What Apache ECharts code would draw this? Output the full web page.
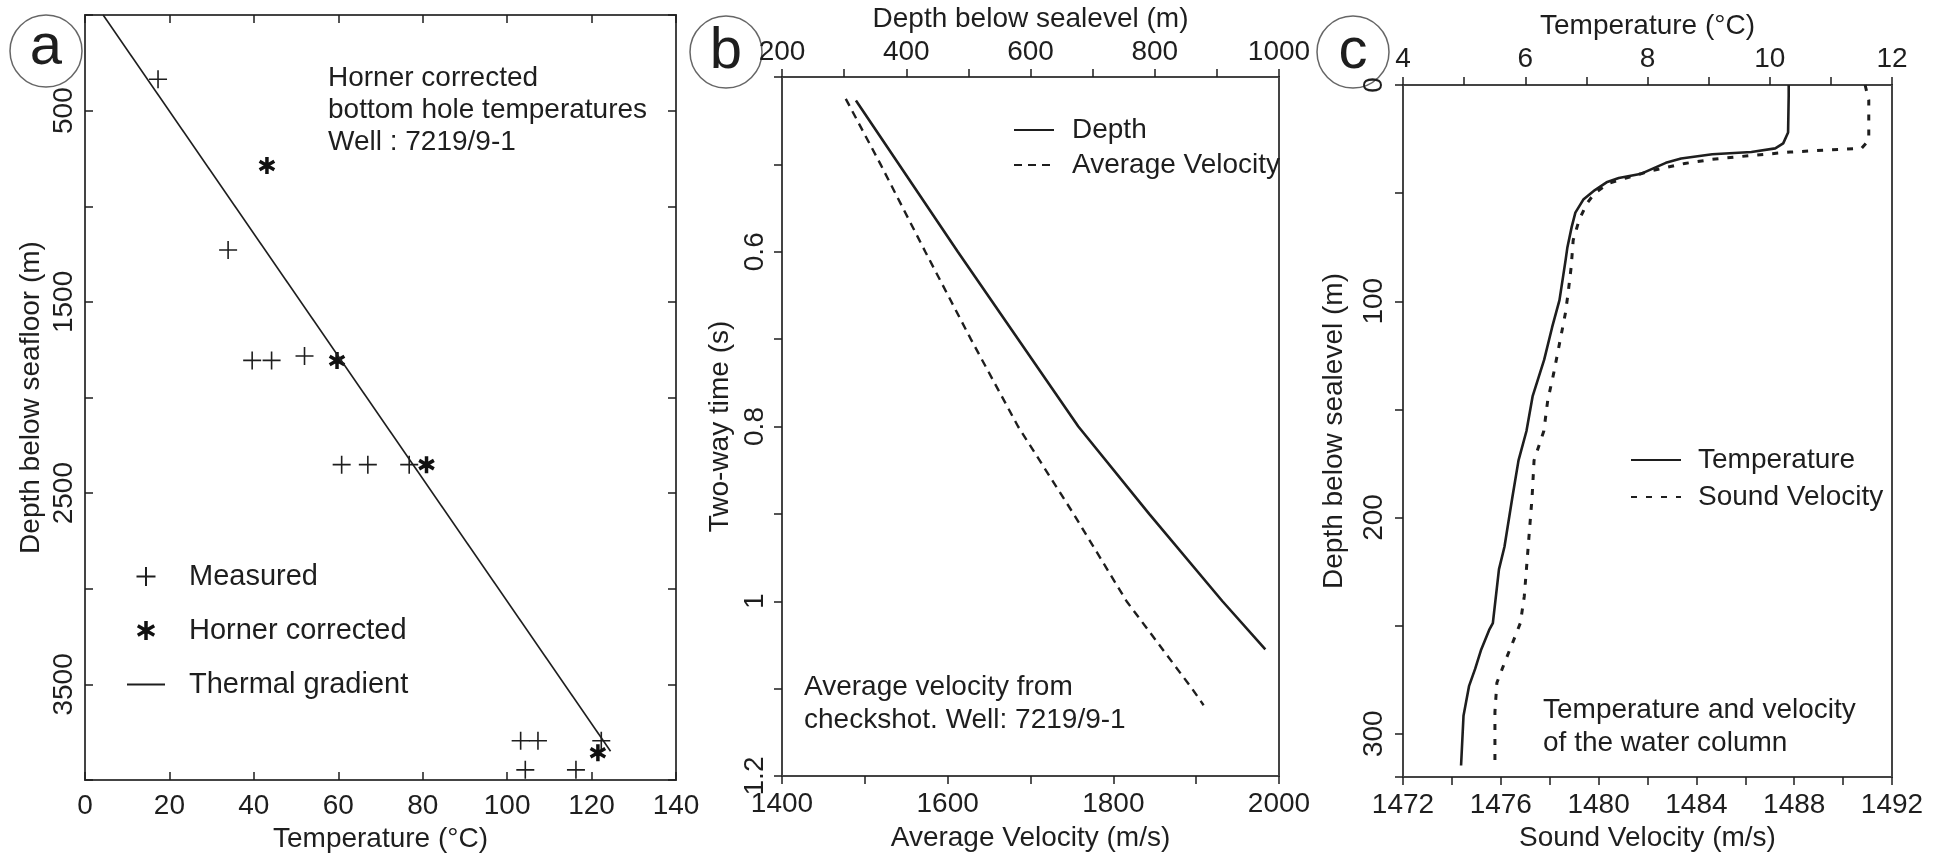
<!DOCTYPE html>
<html>
<head>
<meta charset="utf-8">
<script src="https://cdn.jsdelivr.net/npm/echarts@6.0.0/dist/echarts.min.js"></script>
<style>
  html, body { margin: 0; padding: 0; background: #fff; }
  #chart { width: 1935px; height: 857px; }
</style>
</head>
<body>
<div id="chart"></div>
<script>
// panel a - bottom hole temperatures
const measuredTemp = [17.3, 33.9, 39.6, 44.2, 52.0, 60.8, 67.0, 76.8, 103.2, 107.3, 104.3, 116.3, 122.3];
const measuredDepth = [336, 1229, 1806, 1806, 1783, 2351, 2351, 2351, 3795, 3795, 3947, 3947, 3795];
const hornerTemp = [43.1, 59.7, 80.9, 121.5];
const hornerDepth = [787, 1806, 2351, 3858];
const gradientTemp = [4.3, 124.5];
const gradientDepth = [0, 3850];
const aXLabels = [0, 20, 40, 60, 80, 100, 120, 140];
const aYLabels = [500, 1500, 2500, 3500];

// panel b - checkshot
const bVelTime = [0.425, 0.5, 0.6, 0.7, 0.8, 0.9, 1.0, 1.1, 1.119];
const bVelocity = [1477, 1519, 1573, 1628, 1685, 1752, 1816, 1895, 1909];
const bDepthTime = [0.427, 0.6, 0.8, 0.9, 1.0, 1.055];
const bDepth = [319, 483, 677, 791, 909, 978];
const bTopLabels = [200, 400, 600, 800, 1000];
const bBottomLabels = [1400, 1600, 1800, 2000];
const bYLabels = [0.6, 0.8, 1, 1.2];

// panel c - water column
const cTempDepth = [0, 5, 22, 27, 29.3, 31, 32, 34, 36, 41, 43, 45, 48.6, 53, 59, 65.6, 75, 81, 99.5, 112, 127, 144, 160, 173.6, 190.5, 213.5, 224, 248.8, 252, 261, 270, 278, 291.7, 314.7];
const cTemp = [10.31, 10.31, 10.3, 10.22, 10.09, 9.7, 9.06, 8.55, 8.3, 7.9, 7.53, 7.33, 7.14, 6.95, 6.82, 6.76, 6.69, 6.66, 6.56, 6.44, 6.31, 6.12, 6.02, 5.89, 5.79, 5.66, 5.57, 5.47, 5.41, 5.28, 5.18, 5.08, 4.99, 4.95];
const cVelDepth = [0, 7, 25.5, 29.3, 30, 31, 32.6, 34.4, 36.3, 39.4, 43, 45.5, 50, 54.8, 62.5, 71.8, 84, 96.5, 105.7, 119.6, 133.5, 145.8, 160, 173.6, 190.5, 213.5, 236.5, 248.8, 258, 267, 276.4, 290, 314];
const cVel = [1490.9, 1491.05, 1491.05, 1490.75, 1489.5, 1487.84, 1486.24, 1484.64, 1483.52, 1482.24, 1481.12, 1480.4, 1479.84, 1479.52, 1479.2, 1478.96, 1478.88, 1478.75, 1478.64, 1478.4, 1478.16, 1477.92, 1477.76, 1477.36, 1477.28, 1477.12, 1476.96, 1476.8, 1476.48, 1476.16, 1475.84, 1475.76, 1475.76];
const cTopLabels = [4, 6, 8, 10, 12];
const cBottomLabels = [1472, 1476, 1480, 1484, 1488, 1492];
const cYLabels = [0, 100, 200, 300];

const FONT = 'Liberation Sans, Arial, sans-serif';
const INK = '#1e1e1e';

const zip = (xs, ys) => xs.map((x, i) => [x, ys[i]]);
const pick = labels => v => {
    const hit = labels.find(l => Math.abs(l - v) < 1e-6);
    return hit === undefined ? '' : String(hit);
};

const labelStyle = { color: INK, fontSize: 28, fontFamily: FONT };
const nameStyle = { color: INK, fontSize: 28, fontFamily: FONT };

function xAx(grid, pos, min, max, interval, labels, name, opts) {
    opts = opts || {};
    return {
        type: 'value', gridIndex: grid, position: pos, min: min, max: max, interval: interval,
        axisLine: { show: false, onZero: false },
        axisTick: { show: true, inside: !!opts.inside, length: 8, lineStyle: { color: INK, width: 1.5 } },
        axisLabel: Object.assign({ show: !!labels, formatter: labels ? pick(labels) : '', margin: opts.margin || 12,
            showMinLabel: true, showMaxLabel: true }, labelStyle),
        splitLine: { show: false },
        name: name || '', nameLocation: 'middle', nameGap: opts.nameGap || 44, nameTextStyle: nameStyle
    };
}

function yAx(grid, pos, min, max, interval, labels, name, opts) {
    opts = opts || {};
    return {
        type: 'value', gridIndex: grid, position: pos, inverse: true, min: min, max: max, interval: interval,
        axisLine: { show: false, onZero: false },
        axisTick: { show: true, inside: !!opts.inside, length: 8, lineStyle: { color: INK, width: 1.5 } },
        axisLabel: Object.assign({ show: !!labels, formatter: labels ? pick(labels) : '', rotate: 90,
            margin: opts.margin || 8, showMinLabel: true, showMaxLabel: true }, labelStyle),
        splitLine: { show: false },
        name: name || '', nameLocation: 'middle', nameRotate: 90, nameGap: opts.nameGap || 44, nameTextStyle: nameStyle
    };
}

const gridBox = { show: true, borderColor: '#444', borderWidth: 2, backgroundColor: 'transparent', outerBoundsMode: 'none' };
// hide the marker that echarts puts on line legend icons
const lineOnly = name => ({ name: name, itemStyle: { opacity: 0 } });

const option = {
    animation: false,
    backgroundColor: '#fff',
    textStyle: { fontFamily: FONT },
    grid: [
        Object.assign({ left: 85, top: 15, width: 591, height: 765 }, gridBox),
        Object.assign({ left: 782, top: 77, width: 497, height: 699 }, gridBox),
        Object.assign({ left: 1403, top: 85, width: 489, height: 692 }, gridBox)
    ],
    xAxis: [
        xAx(0, 'bottom', 0, 140, 20, aXLabels, 'Temperature (°C)', { inside: true, margin: 12, nameGap: 42 }),
        xAx(0, 'top', 0, 140, 20, null, '', { inside: true }),
        xAx(1, 'top', 200, 1000, 100, bTopLabels, 'Depth below sealevel (m)', { margin: 11, nameGap: 40 }),
        xAx(1, 'bottom', 1400, 2000, 100, bBottomLabels, 'Average Velocity (m/s)', { margin: 14, nameGap: 48 }),
        xAx(2, 'top', 4, 12, 1, cTopLabels, 'Temperature (°C)', { margin: 12, nameGap: 44 }),
        xAx(2, 'bottom', 1472, 1492, 2, cBottomLabels, 'Sound Velocity (m/s)', { margin: 14, nameGap: 44 })
    ],
    yAxis: [
        yAx(0, 'left', 0, 4000, 500, aYLabels, 'Depth below seafloor (m)', { inside: true, margin: 7, nameGap: 40 }),
        yAx(0, 'right', 0, 4000, 500, null, '', { inside: true }),
        yAx(1, 'left', 0.4, 1.2, 0.1, bYLabels, 'Two-way time (s)', { margin: 13, nameGap: 48 }),
        yAx(2, 'left', 0, 320, 50, cYLabels, 'Depth below sealevel (m)', { margin: 15, nameGap: 55 })
    ],
    legend: [
        {
            data: [
                'Measured',
                { name: 'Horner corrected', itemStyle: { borderColor: '#111', borderWidth: 3.5 } },
                lineOnly('Thermal gradient')
            ],
            orient: 'vertical', left: 121, top: 557, itemWidth: 38, itemHeight: 19, itemGap: 25,
            textStyle: { color: INK, fontSize: 29, fontFamily: FONT, padding: [0, 0, 0, 19] },
            selectedMode: false
        },
        {
            data: [lineOnly('Depth'), lineOnly('Average Velocity')],
            orient: 'vertical', left: 1008, top: 111, itemWidth: 40, itemHeight: 18, itemGap: 7,
            textStyle: { color: INK, fontSize: 28, fontFamily: FONT, padding: [0, 0, 0, 13] },
            selectedMode: false
        },
        {
            data: [lineOnly('Temperature'), lineOnly('Sound Velocity')],
            orient: 'vertical', left: 1625, top: 441, itemWidth: 50, itemHeight: 18, itemGap: 9,
            textStyle: { color: INK, fontSize: 28, fontFamily: FONT, padding: [0, 0, 0, 12] },
            selectedMode: false
        }
    ],
    graphic: [
        { type: 'circle', shape: { cx: 46, cy: 51, r: 36 }, style: { fill: '#fff', stroke: '#666', lineWidth: 1.5 } },
        { type: 'text', x: 46, y: 48, style: { text: 'a', font: '58px ' + FONT, fill: INK, textAlign: 'center', textVerticalAlign: 'middle' } },
        { type: 'circle', shape: { cx: 726, cy: 52, r: 36 }, style: { fill: '#fff', stroke: '#666', lineWidth: 1.5 } },
        { type: 'text', x: 726, y: 52, style: { text: 'b', font: '58px ' + FONT, fill: INK, textAlign: 'center', textVerticalAlign: 'middle' } },
        { type: 'circle', shape: { cx: 1353, cy: 52, r: 36 }, style: { fill: '#fff', stroke: '#666', lineWidth: 1.5 } },
        { type: 'text', x: 1353, y: 52, style: { text: 'c', font: '58px ' + FONT, fill: INK, textAlign: 'center', textVerticalAlign: 'middle' } },
        { type: 'text', x: 328, y: 62, style: { text: 'Horner corrected\nbottom hole temperatures\nWell : 7219/9-1', font: '28px ' + FONT, fill: INK, lineHeight: 32 } },
        { type: 'text', x: 804, y: 671, style: { text: 'Average velocity from\ncheckshot. Well: 7219/9-1', font: '28px ' + FONT, fill: INK, lineHeight: 33 } },
        { type: 'text', x: 1543, y: 694, style: { text: 'Temperature and velocity\nof the water column', font: '28px ' + FONT, fill: INK, lineHeight: 33 } }
    ],
    series: [
        {
            name: 'Measured', type: 'scatter', xAxisIndex: 0, yAxisIndex: 0,
            symbol: 'path://M0,-10L0,10M-10,0L10,0', symbolSize: 18,
            itemStyle: { color: 'transparent', borderColor: INK, borderWidth: 1.6, opacity: 1 },
            data: zip(measuredTemp, measuredDepth)
        },
        {
            name: 'Horner corrected', type: 'scatter', xAxisIndex: 0, yAxisIndex: 0,
            symbol: 'path://M0,-10L0,10M-8.66,-5L8.66,5M-8.66,5L8.66,-5', symbolSize: 17, symbolKeepAspect: true,
            itemStyle: { color: 'transparent', borderColor: '#111', borderWidth: 3.5, opacity: 1 },
            data: zip(hornerTemp, hornerDepth)
        },
        {
            name: 'Thermal gradient', type: 'line', xAxisIndex: 0, yAxisIndex: 0,
            symbol: 'none', lineStyle: { color: INK, width: 1.6 }, itemStyle: { color: INK },
            data: zip(gradientTemp, gradientDepth)
        },
        {
            name: 'Depth', type: 'line', xAxisIndex: 2, yAxisIndex: 2,
            symbol: 'none', lineStyle: { color: INK, width: 2.6 }, itemStyle: { color: INK },
            data: zip(bDepth, bDepthTime)
        },
        {
            name: 'Average Velocity', type: 'line', xAxisIndex: 3, yAxisIndex: 2,
            symbol: 'none', lineStyle: { color: INK, width: 2.4, type: [8, 6] }, itemStyle: { color: INK },
            data: zip(bVelocity, bVelTime)
        },
        {
            name: 'Temperature', type: 'line', xAxisIndex: 4, yAxisIndex: 3,
            symbol: 'none', lineStyle: { color: INK, width: 2.6 }, itemStyle: { color: INK },
            data: zip(cTemp, cTempDepth)
        },
        {
            name: 'Sound Velocity', type: 'line', xAxisIndex: 5, yAxisIndex: 3,
            symbol: 'none', lineStyle: { color: INK, width: 3, type: [6, 9] }, itemStyle: { color: INK },
            data: zip(cVel, cVelDepth)
        }
    ]
};

const chart = echarts.init(document.getElementById('chart'), null, { renderer: 'canvas' });
chart.setOption(option);
</script>
</body>
</html>
